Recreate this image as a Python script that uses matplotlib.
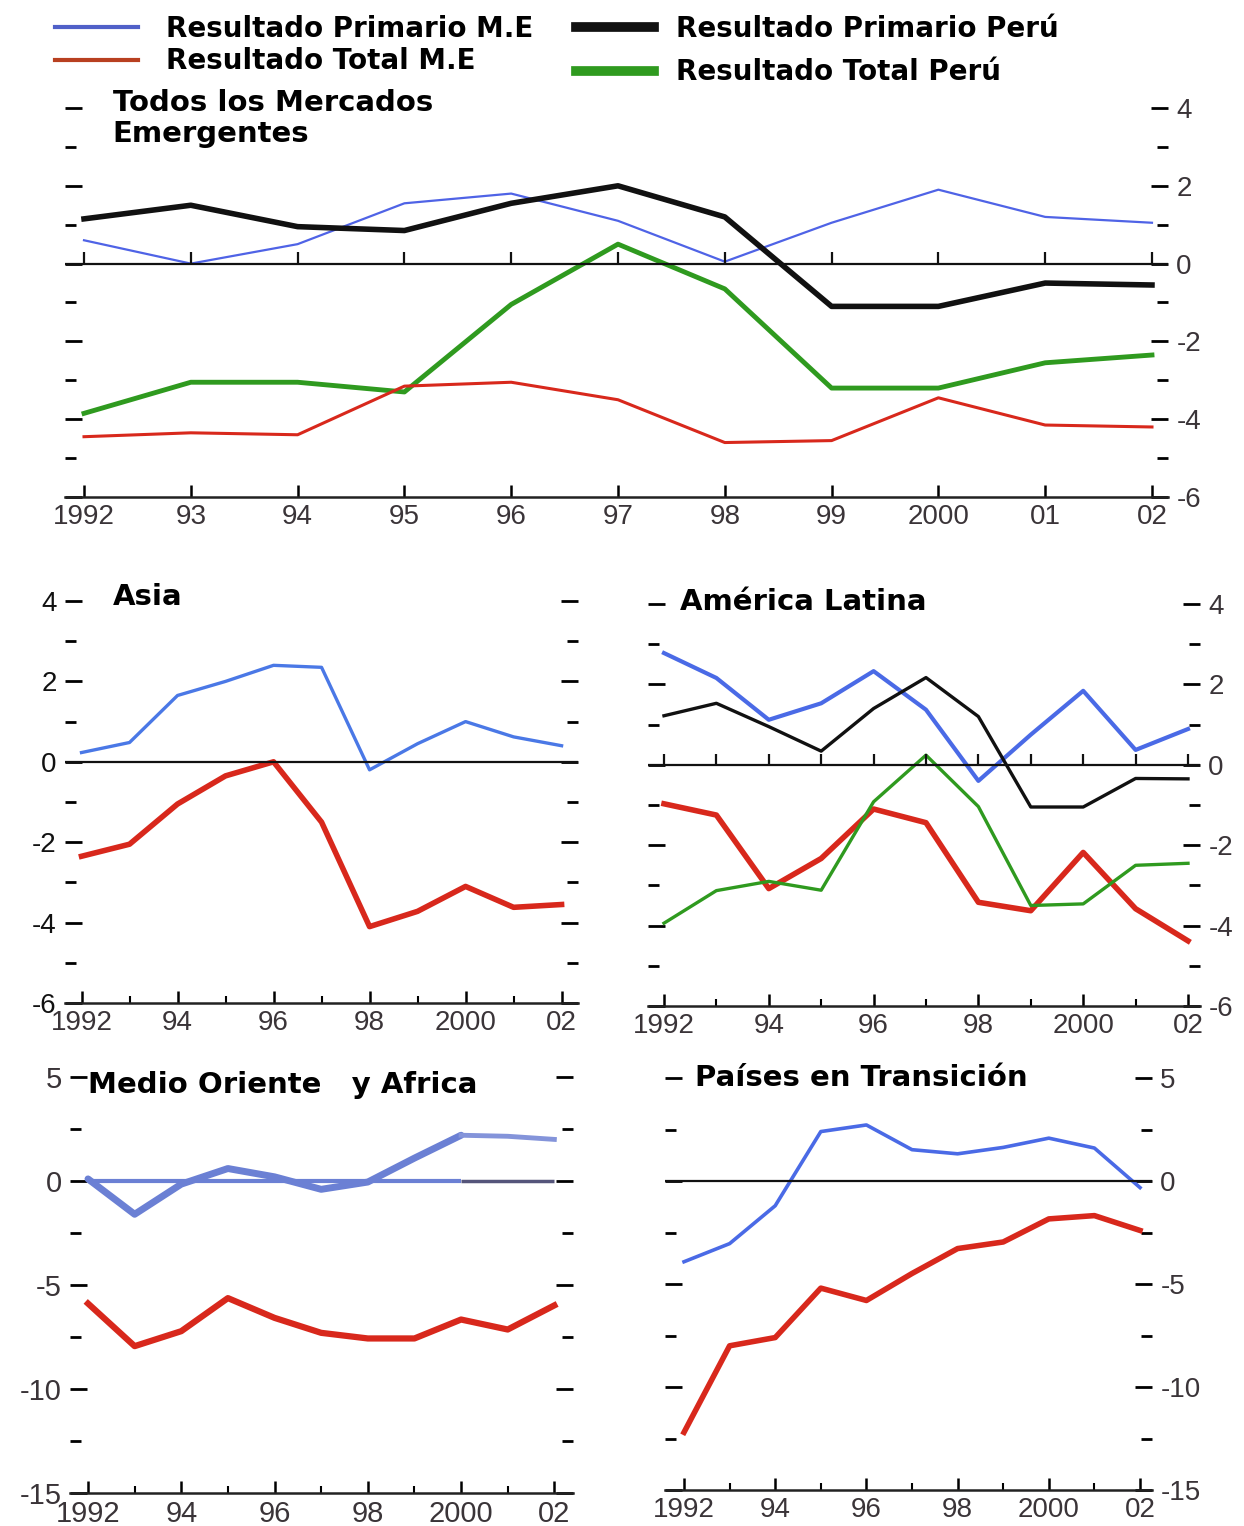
import matplotlib.pyplot as plt
from matplotlib.ticker import MultipleLocator

plt.rcParams['font.family'] = ['Liberation Sans', 'DejaVu Sans']
plt.rcParams['axes.unicode_minus'] = False

W, H = 1244, 1526
years = list(range(1992, 2003))

# Todos los Mercados Emergentes
em_prim = [0.6, 0.0, 0.5, 1.55, 1.8, 1.1, 0.05, 1.05, 1.9, 1.2, 1.05]
em_total = [-4.45, -4.35, -4.4, -3.15, -3.05, -3.5, -4.6, -4.55, -3.45, -4.15, -4.2]
peru_prim = [1.15, 1.5, 0.95, 0.85, 1.55, 2.0, 1.2, -1.1, -1.1, -0.5, -0.55]
peru_total = [-3.85, -3.05, -3.05, -3.3, -1.05, 0.5, -0.65, -3.2, -3.2, -2.55, -2.35]

# Asia
asia_prim = [0.23, 0.48, 1.65, 2.0, 2.4, 2.35, -0.2, 0.45, 1.0, 0.62, 0.4]
asia_total = [-2.35, -2.05, -1.05, -0.35, 0.0, -1.5, -4.1, -3.72, -3.1, -3.62, -3.55]

# America Latina
al_prim = [2.78, 2.16, 1.12, 1.53, 2.33, 1.37, -0.4, 0.75, 1.84, 0.37, 0.89]
al_total = [-0.97, -1.25, -3.08, -2.33, -1.1, -1.44, -3.42, -3.63, -2.18, -3.58, -4.38]
al_peru_prim = [1.22, 1.53, 0.95, 0.34, 1.4, 2.17, 1.2, -1.05, -1.05, -0.34, -0.35]
al_peru_total = [-3.94, -3.13, -2.9, -3.12, -0.92, 0.24, -1.04, -3.5, -3.46, -2.5, -2.45]

# Medio Oriente y Africa
mo_prim = [0.1, -1.6, -0.15, 0.6, 0.2, -0.4, -0.05, 1.1, 2.2, 2.15, 2.0]
mo_total = [-5.89, -7.94, -7.22, -5.63, -6.58, -7.3, -7.57, -7.57, -6.66, -7.14, -5.98]

# Paises en Transicion
pt_prim = [-3.92, -3.04, -1.2, 2.4, 2.72, 1.52, 1.32, 1.63, 2.08, 1.6, -0.32]
pt_total = [-12.2, -8.0, -7.6, -5.2, -5.8, -4.49, -3.28, -2.96, -1.84, -1.68, -2.4]

top_labels = ['1992', '93', '94', '95', '96', '97', '98', '99', '2000', '01', '02']
even_years = years[::2]
even_labels = ['1992', '94', '96', '98', '2000', '02']

BLUE = '#4f63e6'
RED = '#d8281c'
BLACK = '#111111'
GREEN = '#2f9a1f'
TXT = '#3a3438'
TITLE = {'fontsize': 21, 'fontweight': 'bold', 'family': 'DejaVu Sans'}

fig = plt.figure(figsize=(W / 100, H / 100), dpi=100)


def make_ax(l, r, t, b):
    return fig.add_axes([l / W, 1 - b / H, (r - l) / W, (b - t) / H])


def style(ax, xlim, ylim, major, minor, label_side, xticks, xlabels, size=20):
    ax.set_xlim(*xlim)
    ax.set_ylim(*ylim)
    for s in ['top', 'left', 'right']:
        ax.spines[s].set_visible(False)
    ax.spines['bottom'].set_linewidth(1.8)
    ax.spines['bottom'].set_color('#222222')
    ax.set_xticks(years, minor=True)
    ax.set_xticks(xticks)
    ax.set_xticklabels(xlabels)
    ax.yaxis.set_major_locator(MultipleLocator(major))
    ax.yaxis.set_minor_locator(MultipleLocator(minor))
    ax.tick_params(axis='x', which='major', direction='in', length=9, width=1.8,
                   labelsize=size, labelcolor=TXT, pad=5)
    ax.tick_params(axis='x', which='minor', direction='in', length=5, width=1.5)
    ax.tick_params(axis='y', which='both', direction='in', length=12, width=2,
                   left=True, right=True, labelsize=size, labelcolor=TXT, pad=6,
                   labelleft=(label_side == 'left'), labelright=(label_side == 'right'))
    ax.tick_params(axis='y', which='minor', length=8)


# ---- top panel ----
ax0 = make_ax(65, 1168, 108, 497)
l_ep, = ax0.plot(years, em_prim, color=BLUE, lw=1.6)
l_pp, = ax0.plot(years, peru_prim, color=BLACK, lw=4)
l_pt, = ax0.plot(years, peru_total, color=GREEN, lw=3.5)
l_et, = ax0.plot(years, em_total, color=RED, lw=2.2)
ax0.axhline(0, color=BLACK, lw=1.6)
ax0.plot(years, [0] * len(years), ls='none', marker=2, ms=9, mew=1.6, color=BLACK)
style(ax0, (1991.822, 2002.15), (-6, 4), 2, 1, 'right', years, top_labels)
ax0.set_xticks([], minor=True)
ax0.text(1992.27, 4.48, 'Todos los Mercados\nEmergentes', va='top', linespacing=1.1,
         **TITLE)

leg_prop = {'family': 'DejaVu Sans', 'weight': 'bold', 'size': 20}
leg1 = fig.legend([l_ep, l_et], ['Resultado Primario M.E', 'Resultado Total M.E'],
                  loc='upper left', bbox_to_anchor=(44 / W, 1 - 4 / H), frameon=False,
                  prop=leg_prop, borderaxespad=0,
                  handlelength=3.0, handletextpad=1.0, labelspacing=0.15)
leg2 = fig.legend([l_pp, l_pt], ['Resultado Primario Perú', 'Resultado Total Perú'],
                  loc='upper left', bbox_to_anchor=(565 / W, 1 - 4 / H), frameon=False,
                  prop=leg_prop, borderaxespad=0,
                  handlelength=2.8, handletextpad=0.8, labelspacing=0.55)
for h in leg1.legend_handles:
    h.set_linewidth(3)
leg1.legend_handles[0].set_color('#5060c8')
leg1.legend_handles[1].set_color('#b84020')
for h in leg2.legend_handles:
    h.set_linewidth(7)

# ---- Asia ----
ax1 = make_ax(65, 578, 601, 1003)
ax1.plot(years, asia_prim, color='#4a78e6', lw=2.4)
ax1.plot(years, asia_total, color=RED, lw=4)
ax1.axhline(0, color=BLACK, lw=1.6)
style(ax1, (1991.656, 2002.342), (-6, 4), 2, 1, 'left', even_years, even_labels)
ax1.tick_params(axis='y', labelcolor='#111111')
ax1.text(1992.65, 4.1, 'Asia', va='center', **TITLE)

# ---- America Latina ----
ax2 = make_ax(648, 1200, 604, 1006)
ax2.plot(years, al_prim, color='#4a6ae6', lw=3)
ax2.plot(years, al_peru_prim, color=BLACK, lw=2.4)
ax2.plot(years, al_total, color=RED, lw=4)
ax2.plot(years, al_peru_total, color=GREEN, lw=2.4)
ax2.axhline(0, color=BLACK, lw=1.6)
ax2.plot(years, [0] * len(years), ls='none', marker=2, ms=8, mew=1.6, color=BLACK)
style(ax2, (1991.695, 2002.229), (-6, 4), 2, 1, 'right', even_years, even_labels)
ax2.text(1992.3, 4.05, 'América Latina', va='center', **TITLE)

# ---- Medio Oriente y Africa ----
ax3 = make_ax(70, 573, 1077, 1493)
ax3.hlines(0, years[0], years[8], color='#6b80d4', lw=3)
ax3.hlines(0, years[8], years[-1], color='#55557a', lw=2.5)
ax3.plot(years[:9], mo_prim[:9], color='#6b80d4', lw=5, solid_capstyle='round')
ax3.plot(years[8:], mo_prim[8:], color='#8494da', lw=3.5)
ax3.plot(years, mo_total, color=RED, lw=4.5)
style(ax3, (1991.614, 2002.4), (-15, 5), 5, 2.5, 'left', even_years, even_labels, size=21)
ax3.text(1992.0, 4.6, 'Medio Oriente   y Africa', va='center', **TITLE)

# ---- Paises en Transicion ----
ax4 = make_ax(665, 1152, 1078, 1490)
ax4.plot(years, pt_prim, color='#4a6ae6', lw=2.6)
ax4.plot(years, pt_total, color=RED, lw=4)
ax4.axhline(0, color=BLACK, lw=1.6)
style(ax4, (1991.583, 2002.263), (-15, 5), 5, 2.5, 'right', even_years, even_labels)
ax4.text(1992.25, 5.0, 'Países en Transición', va='center', **TITLE)

fig.savefig('out.png', dpi=100)
